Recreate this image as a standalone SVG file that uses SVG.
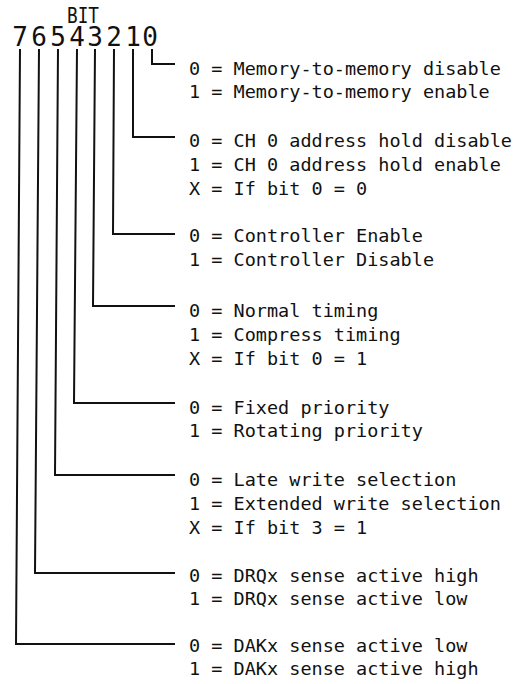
<svg xmlns="http://www.w3.org/2000/svg" width="527" height="684" viewBox="0 0 527 684">
  <style>
    .bg { fill: #ffffff; }
    .lbl { font-family: "DejaVu Sans Mono", "Liberation Mono", monospace; font-size: 18.5px; fill: #111111; }
    .digits { font-family: "DejaVu Sans Mono", "Liberation Mono", monospace; font-size: 26px; fill: #111111; text-anchor: middle; }
    .title { font-family: "DejaVu Sans Mono", "Liberation Mono", monospace; font-size: 21px; fill: #111111; }
    .wire { fill: none; stroke: #111111; stroke-width: 2; stroke-linejoin: miter; }
  </style>
  <rect class="bg" x="0" y="0" width="527" height="684"/>

  <!-- register header -->
  <g id="header">
    <text class="title" x="67" y="23" textLength="32" lengthAdjust="spacingAndGlyphs">BIT</text>
    <text class="digits" x="20 39 58 77 95 114 133 150" y="46">76543210</text>
  </g>

  <!-- leader lines from each bit to its description -->
  <g id="connectors">
    <path class="wire" d="M152 49 L152 64 L175 64"/>
    <path class="wire" d="M133 49 L133 137 L175 137"/>
    <path class="wire" d="M114 49 L113 234 L175 234"/>
    <path class="wire" d="M95 49 L93 306 L175 306"/>
    <path class="wire" d="M77 49 L74 403 L175 403"/>
    <path class="wire" d="M58 49 L55 475 L175 475"/>
    <path class="wire" d="M39 49 L35 573 L175 573"/>
    <path class="wire" d="M20 49 L16 644 L175 644"/>
  </g>

  <g id="bit0">
    <text class="lbl" x="189" y="75">0 = Memory-to-memory disable</text>
    <text class="lbl" x="189" y="98">1 = Memory-to-memory enable</text>
  </g>
  <g id="bit1">
    <text class="lbl" x="189" y="147">0 = CH 0 address hold disable</text>
    <text class="lbl" x="189" y="171">1 = CH 0 address hold enable</text>
    <text class="lbl" x="189" y="195">X = If bit 0 = 0</text>
  </g>
  <g id="bit2">
    <text class="lbl" x="189" y="242">0 = Controller Enable</text>
    <text class="lbl" x="189" y="266">1 = Controller Disable</text>
  </g>
  <g id="bit3">
    <text class="lbl" x="189" y="317">0 = Normal timing</text>
    <text class="lbl" x="189" y="341">1 = Compress timing</text>
    <text class="lbl" x="189" y="365">X = If bit 0 = 1</text>
  </g>
  <g id="bit4">
    <text class="lbl" x="189" y="414">0 = Fixed priority</text>
    <text class="lbl" x="189" y="437">1 = Rotating priority</text>
  </g>
  <g id="bit5">
    <text class="lbl" x="189" y="486">0 = Late write selection</text>
    <text class="lbl" x="189" y="510">1 = Extended write selection</text>
    <text class="lbl" x="189" y="534">X = If bit 3 = 1</text>
  </g>
  <g id="bit6">
    <text class="lbl" x="189" y="582">0 = DRQx sense active high</text>
    <text class="lbl" x="189" y="605">1 = DRQx sense active low</text>
  </g>
  <g id="bit7">
    <text class="lbl" x="189" y="652">0 = DAKx sense active low</text>
    <text class="lbl" x="189" y="675">1 = DAKx sense active high</text>
  </g>
</svg>
